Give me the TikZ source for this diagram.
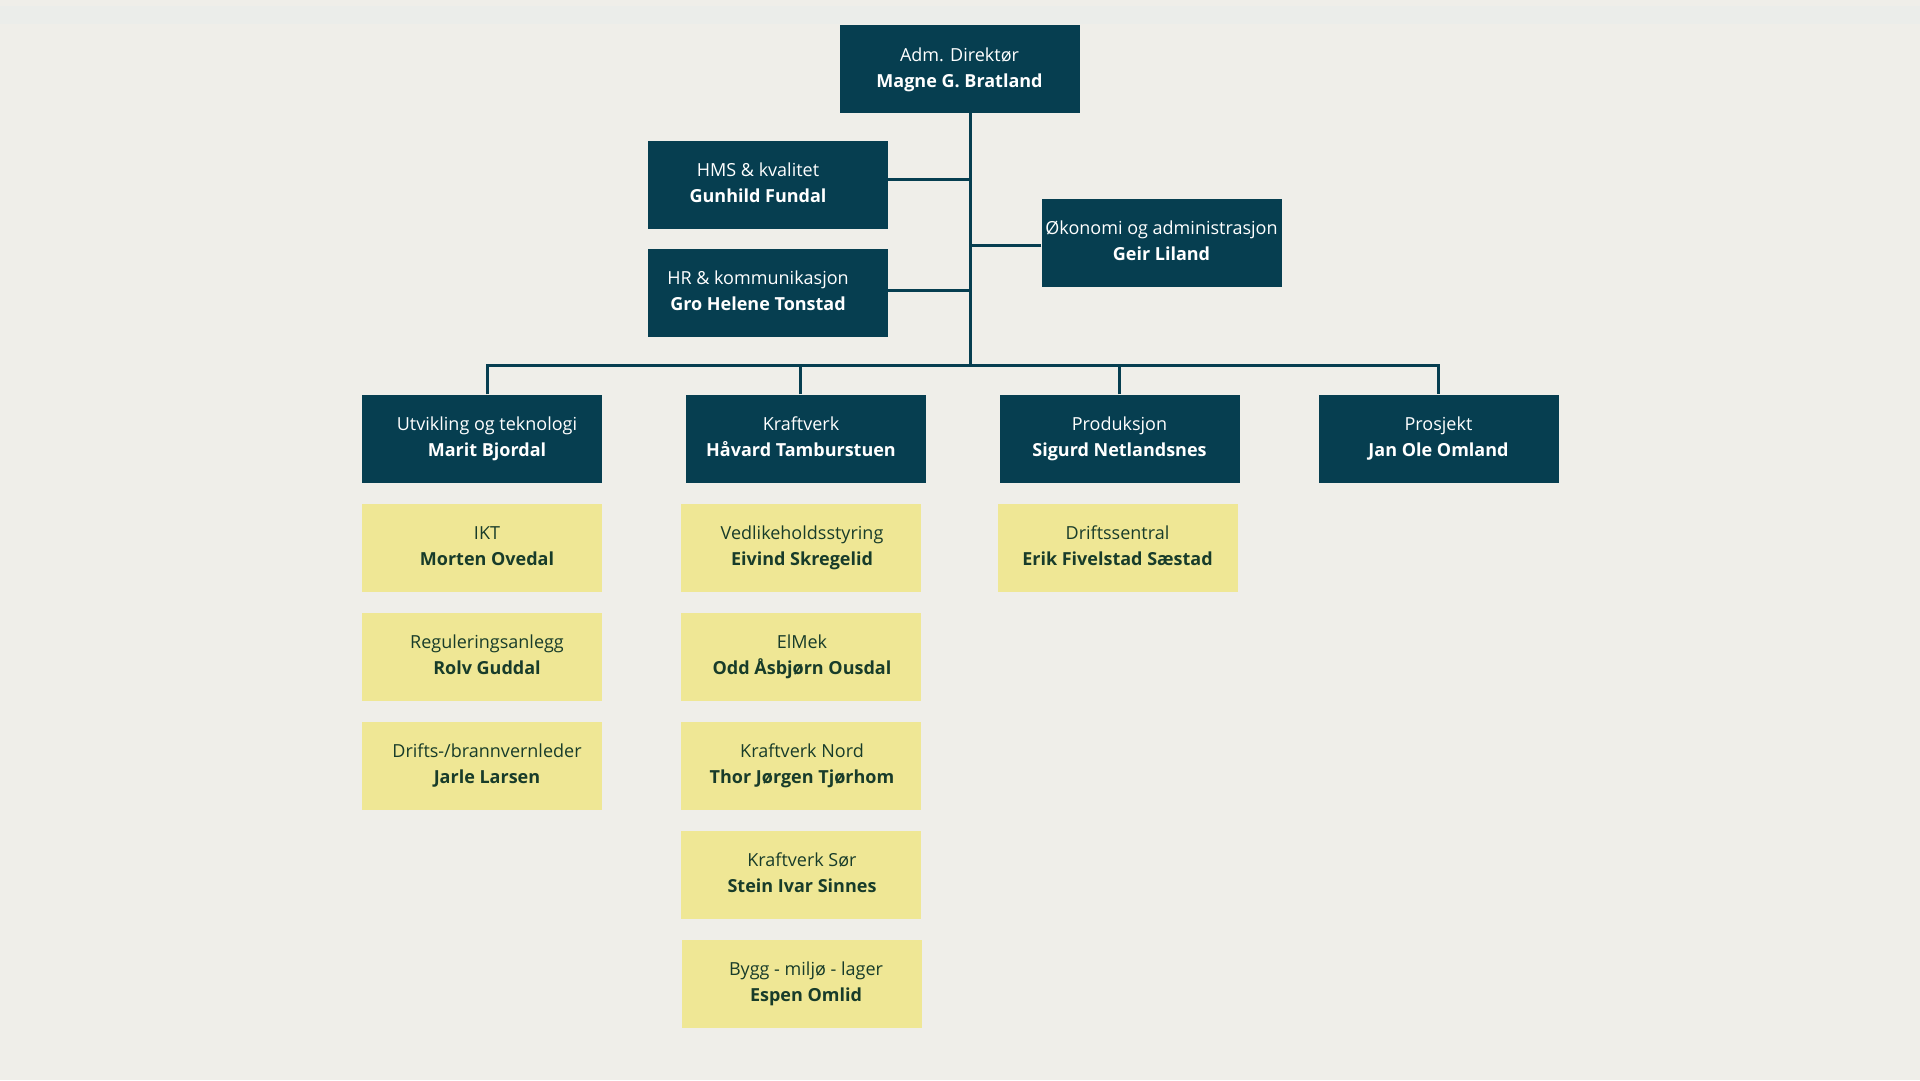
\documentclass[tikz,border=0pt]{standalone}
\usepackage{fontspec}
\setmainfont{Open Sans}
\usetikzlibrary{positioning}
\definecolor{Teal}{RGB}{6,62,80}
\definecolor{Sand}{RGB}{239,231,149}
\definecolor{Paper}{RGB}{239,238,233}
\definecolor{Mist}{RGB}{235,237,234}
\definecolor{Moss}{RGB}{24,60,42}
% optional arg nudges the text sideways (by half its value)
\newcommand{\Role}[3][0pt]{\hspace*{#1}\strut#2\\\hspace*{#1}\textbf{#3}\strut}

\begin{document}
\begin{tikzpicture}[x=1pt,y=-1pt,
  lead/.style={fill=Teal,text=white,minimum width=240pt,minimum height=88pt,
    inner sep=0pt,align=center,font=\fontsize{18}{26}\selectfont},
  unit/.style={lead,fill=Sand,text=Moss},
  link/.style={draw=Teal,line width=3pt}]
\fill[Paper] (0,0) rectangle (1920,1080);
\fill[Mist] (0,6) rectangle (1920,24);
\useasboundingbox (0,0) rectangle (1920,1080);
% top and staff
\node[lead] (dir) at (959.5,69) {\Role{Adm. Direktør}{Magne G. Bratland}};
\node[lead] (hms) at (767.5,184.5) {\Role[-19pt]{HMS \& kvalitet}{Gunhild Fundal}};
\node[lead] (hr) at (767.5,292.5) {\Role[-19pt]{HR \& kommunikasjon}{Gro Helene Tonstad}};
\node[lead] (oko) at (1161.5,242.5) {\Role{Økonomi og administrasjon}{Geir Liland}};
% departments
\node[lead] (ut) at (482,438.5) {\Role[10pt]{Utvikling og teknologi}{Marit Bjordal}};
\node[lead] (kraft) at (805.5,438.5) {\Role[-9pt]{Kraftverk}{Håvard Tamburstuen}};
\node[lead] (prod) at (1119.5,438.5) {\Role{Produksjon}{Sigurd Netlandsnes}};
\node[lead] (pros) at (1438.5,438.5) {\Role{Prosjekt}{Jan Ole Omland}};
% sections
\node[unit] (ikt) at (482,547.5) {\Role[10pt]{IKT}{Morten Ovedal}};
\node[unit] (reg) at (482,656.5) {\Role[10pt]{Reguleringsanlegg}{Rolv Guddal}};
\node[unit] (brann) at (482,765.5) {\Role[10pt]{Drifts-/brannvernleder}{Jarle Larsen}};
\node[unit] (vedl) at (800.5,547.5) {\Role[3pt]{Vedlikeholdsstyring}{Eivind Skregelid}};
\node[unit] (elmek) at (800.5,656.5) {\Role[3pt]{ElMek}{Odd Åsbjørn Ousdal}};
\node[unit] (nord) at (800.5,765.5) {\Role[3pt]{Kraftverk Nord}{Thor Jørgen Tjørhom}};
\node[unit] (sor) at (800.5,874.5) {\Role[3pt]{Kraftverk Sør}{Stein Ivar Sinnes}};
\node[unit] (bygg) at (801.5,983.5) {\Role[9pt]{Bygg - miljø - lager}{Espen Omlid}};
\node[unit] (drift) at (1117.5,547.5) {\Role{Driftssentral}{Erik Fivelstad Sæstad}};
% lines
\coordinate (bus) at (970,365);
\draw[link] (dir.south -| bus) -- (bus);
\draw[link] ([yshift=5.5pt]hms.east) -- ([yshift=5.5pt]hms.east -| bus);
\draw[link] ([yshift=2.5pt]hr.east) -- ([yshift=2.5pt]hr.east -| bus);
\draw[link] ([yshift=-2.5pt]oko.west) -- ([yshift=-2.5pt]oko.west -| bus);
\draw[link] ([xshift=5pt]ut.north) -- ([xshift=5pt]ut.north |- bus) -- (pros.north |- bus) -- (pros.north);
\draw[link] ([xshift=-5pt]kraft.north) -- ([xshift=-5pt]kraft.north |- bus);
\draw[link] (prod.north) -- (prod.north |- bus);
\end{tikzpicture}
\end{document}
